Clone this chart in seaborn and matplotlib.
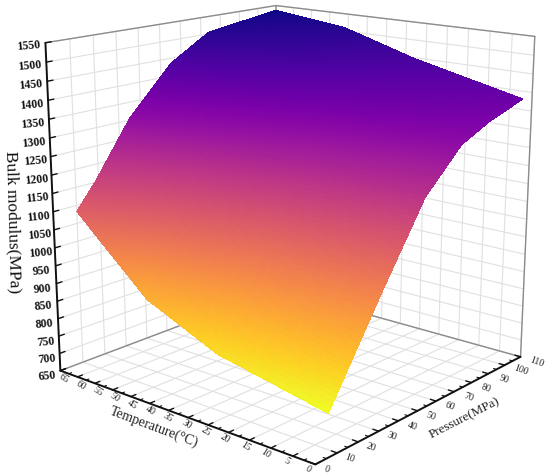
import matplotlib
matplotlib.use("Agg")
import matplotlib.pyplot as plt
import numpy as np
import seaborn as sns
from mpl_toolkits.mplot3d import proj3d

# surface nodes, one row per temperature
temperature_levels = [2, 28, 46, 65]
pressure_t2 = [10, 34, 56, 75, 90, 110]
pressure_t28 = [10, 30, 49, 68, 85, 110]
pressure_t46 = [10, 25, 42, 61, 80, 110]
pressure_t65 = [10, 19, 35, 55, 74, 110]
modulus_t2 = [744, 985, 1198, 1305, 1343, 1379]
modulus_t28 = [803, 1019, 1227, 1348, 1405, 1448]
modulus_t46 = [892, 1070, 1263, 1397, 1468, 1510]
modulus_t65 = [1083, 1156, 1306, 1436, 1505, 1536]

temperature_ticks = list(range(0, 70, 5))
pressure_ticks = list(range(0, 120, 10))
modulus_ticks = list(range(650, 1600, 50))

GRID = "#e0e0e0"
FRAME = "#8c8c8c"
SERIF = ["Liberation Serif", "DejaVu Serif"]


def refine(grid, n=24):
    """Bilinear subdivision, only so one quad can carry a colour gradient."""
    rows, cols = grid.shape
    ri = np.linspace(0, rows - 1, (rows - 1) * n + 1)
    ci = np.linspace(0, cols - 1, (cols - 1) * n + 1)
    r0 = np.minimum(ri.astype(int), rows - 2)
    c0 = np.minimum(ci.astype(int), cols - 2)
    fr = (ri - r0)[:, None]
    fc = (ci - c0)[None, :]
    return (
        grid[np.ix_(r0, c0)] * (1 - fr) * (1 - fc)
        + grid[np.ix_(r0 + 1, c0)] * fr * (1 - fc)
        + grid[np.ix_(r0, c0 + 1)] * (1 - fr) * fc
        + grid[np.ix_(r0 + 1, c0 + 1)] * fr * fc
    )


def tick_label(ax, p, t, z, text, **kwargs):
    """Put a label at a data position, projected through the axes' own view."""
    xp, yp, _ = proj3d.proj_transform(p, t, z, ax.get_proj())
    ax.text2D(xp, yp, text, transform=ax.transData, ha="center", va="center", **kwargs)


sns.set_theme(style="white")
plt.rcParams["font.family"] = SERIF

pressure = np.array([pressure_t2, pressure_t28, pressure_t46, pressure_t65], float)
modulus = np.array([modulus_t2, modulus_t28, modulus_t46, modulus_t65], float)
temperature = np.repeat(np.array(temperature_levels, float)[:, None], pressure.shape[1], axis=1)

fig = plt.figure(figsize=(5.5, 4.77), dpi=100)
ax = fig.add_axes([2.8 / 550, -21.0 / 477, 565.6 / 550, 565.6 / 477], projection="3d")
ax.set_xlim(0, 110, view_margin=0)
ax.set_ylim(0, 65, view_margin=0)
ax.set_zlim(650, 1550, view_margin=0)
ax.view_init(elev=15.659, azim=-139.644)
ax.set_proj_type("persp", focal_length=0.483)
ax.set_box_aspect((1.0, 1.001, 1.0))
ax.set_axis_off()
ax.computed_zorder = False

zlo, zhi = modulus_ticks[0], modulus_ticks[-1]
tmax, pmax = temperature_ticks[-1], pressure_ticks[-1]

# floor and wall grids
for t in temperature_ticks:
    ax.plot([0, pmax], [t, t], [zlo, zlo], color=GRID, lw=0.8, zorder=1)
    ax.plot([pmax, pmax], [t, t], [zlo, zhi], color=GRID, lw=0.8, zorder=1)
for p in pressure_ticks:
    ax.plot([p, p], [0, tmax], [zlo, zlo], color=GRID, lw=0.8, zorder=1)
    ax.plot([p, p], [tmax, tmax], [zlo, zhi], color=GRID, lw=0.8, zorder=1)
for z in modulus_ticks:
    ax.plot([0, pmax], [tmax, tmax], [z, z], color=GRID, lw=0.8, zorder=1)
    ax.plot([pmax, pmax], [0, tmax], [z, z], color=GRID, lw=0.8, zorder=1)

# grey frame of the box
ax.plot([0, pmax, pmax], [tmax, tmax, 0], [zlo, zlo, zlo], color=FRAME, lw=1.0, zorder=2)
ax.plot([0, pmax, pmax], [tmax, tmax, 0], [zhi, zhi, zhi], color=FRAME, lw=1.0, zorder=2)
ax.plot([pmax, pmax], [0, 0], [zlo, zhi], color=FRAME, lw=1.0, zorder=2)
ax.plot([pmax, pmax], [tmax, tmax], [zlo, zhi], color=FRAME, lw=1.0, zorder=2)

cmap = sns.color_palette("plasma_r", as_cmap=True)
fine_z = refine(modulus)
colors = cmap((fine_z - modulus.min()) / (modulus.max() - modulus.min()))
ax.plot_surface(
    refine(pressure), refine(temperature), fine_z,
    facecolors=colors, rstride=1, cstride=1, shade=False,
    linewidth=0, antialiased=False, zorder=3,
)

# black axes with inward ticks
ax.plot([0, 0], [tmax, tmax], [zlo, zhi], color="#111111", lw=1.4, zorder=4)
ax.plot([0, 0], [0, tmax], [zlo, zlo], color="#111111", lw=1.4, zorder=4)
ax.plot([0, pmax], [0, 0], [zlo, zlo], color="#111111", lw=1.4, zorder=4)

for z in modulus_ticks:
    ax.plot([0, 2.4], [tmax, tmax], [z, z], color="#111111", lw=1.0, zorder=4)
    tick_label(ax, -6.8 + 1.3 * (zhi - z) / (zhi - zlo), tmax, z, str(z),
               fontsize=8.6, fontweight="bold", rotation=5, color="#111111")
for t in temperature_ticks:
    ax.plot([0, 2.2], [t, t], [zlo, zlo], color="#111111", lw=1.0, zorder=4)
    if t < tmax:
        ax.plot([0, 1.2], [t + 2.5, t + 2.5], [zlo, zlo], color="#111111", lw=0.8, zorder=4)
    tick_label(ax, -3.4, t - 3.5 * t / tmax, zlo, str(t),
               fontsize=7, rotation=-33, color="#222222")
for p in pressure_ticks:
    ax.plot([p, p], [0, 1.3], [zlo, zlo], color="#111111", lw=1.0, zorder=4)
    if p < pmax:
        ax.plot([p + 5, p + 5], [0, 0.7], [zlo, zlo], color="#111111", lw=0.8, zorder=4)
    tick_label(ax, p, -2.5 - 1.3 * p / pmax, zlo, str(p),
               fontsize=7, rotation=-20, color="#222222")

fig.text(13 / 550, 1 - 222 / 477, "Bulk modulus(MPa)", fontsize=12.5, rotation=-88.4,
         ha="center", va="center", color="#111111")
fig.text(154 / 550, 1 - 427 / 477, "Temperature(°C)", fontsize=10, rotation=-20.6,
         ha="center", va="center", color="#222222")
fig.text(465 / 550, 1 - 418 / 477, "Pressure(MPa)", fontsize=9.4, rotation=27,
         ha="center", va="center", color="#222222")

fig.savefig("out.png", dpi=100)
